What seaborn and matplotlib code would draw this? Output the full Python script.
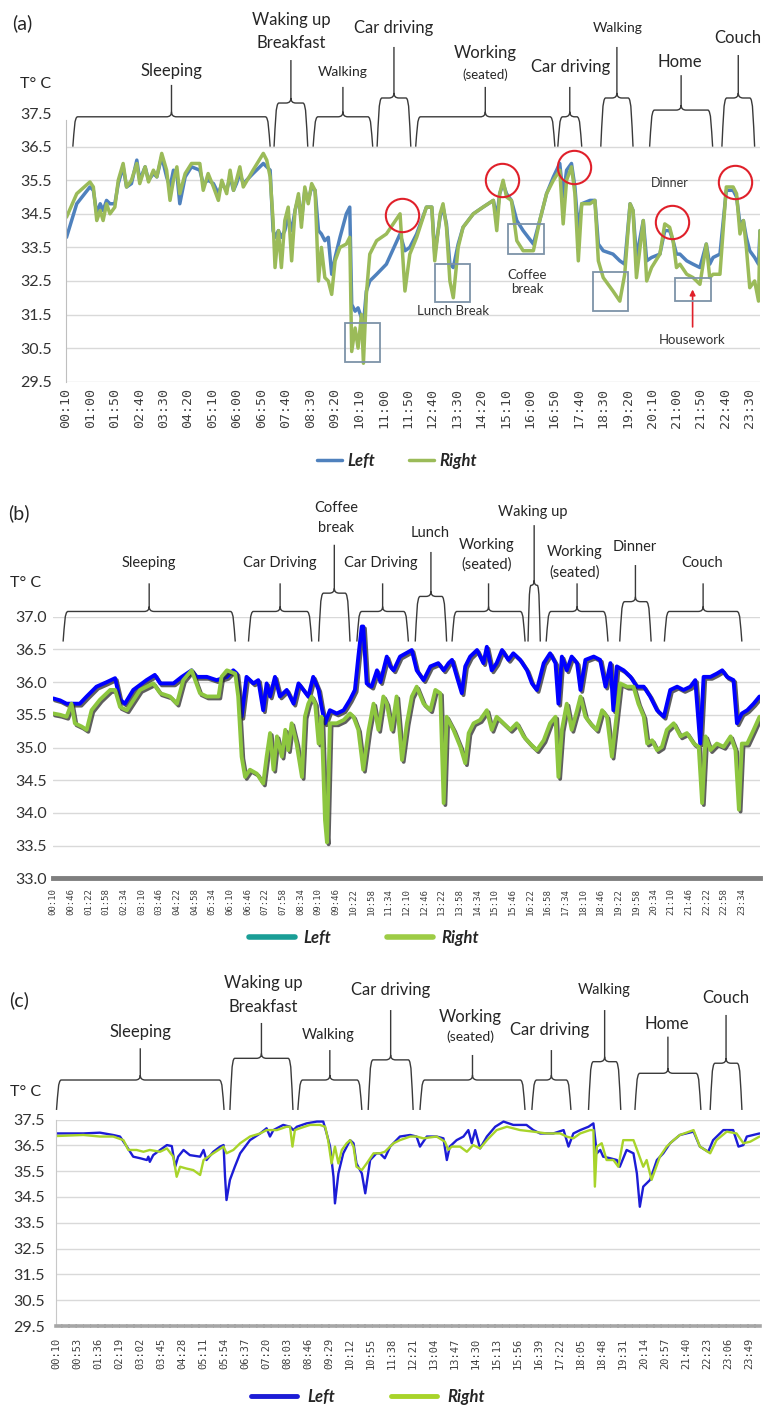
import matplotlib
matplotlib.use("Agg")
import numpy as np
import pandas as pd
import matplotlib.pyplot as plt
import seaborn as sns
from matplotlib.path import Path
from matplotlib.patches import PathPatch, Rectangle
import matplotlib.patheffects as pe
from matplotlib.lines import Line2D

# ---------------- DATA ----------------
# Panel (a): time in minutes after midnight, temperatures in deg C
time_a = [11, 32, 59, 66, 73, 80, 86, 93, 100, 110,
          117, 127, 134, 144, 155, 161, 172, 179, 189, 196,
          206, 216, 223, 230, 237, 243, 254, 267, 284, 291,
          301, 312, 322, 329, 339, 346, 353, 359, 366, 373,
          393, 414, 421, 428, 434, 438, 445, 451, 458, 465,
          472, 479, 486, 492, 499, 506, 513, 520, 527, 533,
          540, 547, 554, 561, 571, 584, 591, 595, 602, 608,
          615, 619, 625, 632, 646, 666, 694, 704, 714, 728,
          748, 759, 765, 776, 782, 789, 796, 803, 813, 823,
          844, 864, 885, 892, 898, 905, 912, 922, 933, 946,
          967, 980, 994, 1008, 1021, 1028, 1035, 1045, 1052, 1059,
          1066, 1083, 1093, 1100, 1110, 1130, 1144, 1154, 1165, 1171,
          1178, 1192, 1199, 1209, 1226, 1236, 1246, 1253, 1260, 1267,
          1281, 1294, 1308, 1321, 1328, 1335, 1349, 1362, 1376, 1383,
          1390, 1397, 1403, 1410, 1420, 1428, 1431]
right_a = [34.4, 35.1, 35.45, 35.3, 34.3, 34.6, 34.3, 34.8, 34.5, 34.7,
           35.5, 36.0, 35.3, 35.5, 36.0, 35.4, 35.9, 35.45, 35.8, 35.6,
           36.3, 35.8, 34.9, 35.5, 35.9, 35.1, 35.7, 36.0, 36.0, 35.2,
           35.7, 35.3, 34.9, 35.5, 35.1, 35.8, 35.2, 35.5, 35.9, 35.3,
           35.8, 36.3, 36.1, 35.6, 34.3, 32.9, 34.0, 32.9, 34.3, 34.7,
           33.1, 34.6, 35.1, 34.1, 35.3, 34.8, 35.4, 35.2, 32.5, 33.5,
           32.6, 32.5, 32.1, 33.1, 33.5, 33.6, 33.8, 30.4, 31.1, 30.5,
           31.5, 30.05, 32.1, 33.3, 33.7, 33.9, 34.5, 32.2, 33.3, 33.8,
           34.7, 34.7, 33.1, 34.5, 34.8, 34.1, 32.5, 32.0, 33.5, 34.1,
           34.5, 34.7, 34.9, 34.0, 35.1, 35.5, 35.0, 34.9, 33.7, 33.4,
           33.4, 34.3, 35.1, 35.5, 35.8, 34.2, 35.5, 35.9, 35.1, 33.1,
           34.8, 34.8, 34.9, 33.1, 32.6, 32.2, 31.9, 32.7, 34.8, 34.6,
           32.6, 34.3, 32.5, 32.9, 33.3, 34.2, 34.1, 33.7, 32.9, 33.0,
           32.7, 32.6, 32.4, 33.6, 32.6, 32.7, 32.7, 35.3, 35.3, 35.1,
           33.9, 34.3, 33.5, 32.3, 32.5, 31.9, 34.0]
left_a = [33.8, 34.8, 35.3, 35.2, 34.5, 34.8, 34.6, 34.9, 34.8, 34.8,
          35.4, 35.9, 35.3, 35.4, 36.1, 35.5, 35.9, 35.5, 35.7, 35.6,
          36.2, 35.6, 35.3, 35.8, 35.7, 34.8, 35.6, 35.9, 35.8, 35.4,
          35.5, 35.4, 35.1, 35.4, 35.2, 35.6, 35.2, 35.4, 35.7, 35.4,
          35.7, 36.0, 35.9, 35.8, 34.0, 33.8, 34.0, 33.8, 34.0, 34.4,
          34.0, 34.6, 35.0, 34.3, 35.2, 34.9, 35.3, 35.2, 34.0, 33.9,
          33.7, 33.8, 32.7, 33.2, 33.8, 34.5, 34.7, 31.8, 31.6, 31.7,
          31.4, 31.2, 32.2, 32.5, 32.7, 33.0, 33.9, 33.4, 33.5, 33.9,
          34.7, 34.7, 33.3, 34.4, 34.7, 34.2, 33.0, 32.9, 33.6, 34.1,
          34.5, 34.7, 34.9, 34.4, 35.1, 35.4, 35.1, 34.9, 34.3, 34.0,
          33.6, 34.3, 35.1, 35.6, 36.0, 35.0, 35.8, 36.0, 35.3, 34.0,
          34.8, 34.9, 34.9, 33.6, 33.4, 33.3, 33.1, 33.0, 34.8, 34.6,
          33.2, 34.3, 33.1, 33.2, 33.3, 34.0, 34.0, 33.7, 33.3, 33.3,
          33.1, 33.0, 32.9, 33.6, 33.0, 33.2, 33.3, 35.2, 35.2, 35.0,
          34.2, 34.3, 33.8, 33.4, 33.2, 33.0, 34.0]

# Panel (b)
time_b_left = [10, 24, 37, 51, 64, 78, 98, 119, 136, 146,
               156, 173, 200, 217, 228, 255, 272, 292, 302, 323,
               343, 364, 377, 384, 394, 404, 418, 428, 438, 445,
               452, 462, 472, 486, 500, 510, 520, 530, 540, 551,
               557, 564, 574, 588, 602, 615, 625, 632, 639, 642,
               649, 659, 670, 677, 690, 697, 704, 717, 741, 751,
               765, 779, 795, 806, 816, 823, 833, 843, 850, 860,
               874, 887, 894, 904, 914, 925, 938, 948, 962, 976,
               986, 996, 1010, 1023, 1034, 1040, 1047, 1057, 1067, 1078,
               1085, 1095, 1112, 1125, 1136, 1146, 1152, 1159, 1173, 1187,
               1200, 1214, 1227, 1241, 1255, 1268, 1282, 1295, 1309, 1319,
               1329, 1336, 1350, 1363, 1374, 1384, 1397, 1404, 1414, 1425,
               1438, 1450]
left_b = [35.75, 35.72, 35.67, 35.67, 35.67, 35.78, 35.93, 36.0, 36.06, 35.73,
          35.67, 35.88, 36.03, 36.11, 35.98, 35.98, 36.08, 36.18, 36.08, 36.08,
          36.03, 36.08, 36.18, 36.13, 35.47, 36.08, 35.98, 36.03, 35.57, 35.98,
          35.78, 36.08, 35.78, 35.88, 35.67, 35.98, 35.88, 35.78, 36.08, 35.88,
          35.62, 35.37, 35.57, 35.52, 35.57, 35.73, 35.88, 36.39, 36.85, 36.85,
          35.98, 35.93, 36.18, 36.0, 36.39, 36.24, 36.18, 36.39, 36.49, 36.18,
          36.03, 36.24, 36.29, 36.18, 36.29, 36.34, 36.08, 35.83, 36.24, 36.39,
          36.49, 36.29, 36.54, 36.18, 36.29, 36.49, 36.34, 36.44, 36.34, 36.18,
          35.98, 35.88, 36.29, 36.44, 36.29, 35.67, 36.39, 36.18, 36.39, 36.29,
          35.88, 36.34, 36.39, 36.34, 35.93, 36.29, 35.57, 36.24, 36.18, 36.08,
          35.93, 35.93, 35.78, 35.57, 35.47, 35.88, 35.93, 35.88, 35.93, 36.03,
          35.06, 36.08, 36.08, 36.13, 36.18, 36.08, 36.03, 35.37, 35.52, 35.57,
          35.67, 35.78]
time_b_right = [10, 24, 37, 47, 54, 68, 78, 88, 105, 126,
                136, 146, 160, 187, 214, 228, 248, 262, 275, 292,
                309, 323, 347, 353, 364, 381, 387, 394, 401, 411,
                425, 438, 445, 452, 459, 466, 476, 483, 489, 496,
                506, 517, 523, 530, 537, 544, 551, 557, 564, 568,
                574, 588, 602, 615, 622, 632, 642, 653, 663, 673,
                683, 690, 700, 710, 721, 731, 741, 751, 765, 779,
                789, 799, 806, 812, 826, 840, 850, 857, 867, 880,
                894, 904, 914, 928, 942, 955, 969, 982, 996, 1010,
                1023, 1034, 1040, 1047, 1057, 1067, 1078, 1085, 1095, 1105,
                1118, 1129, 1139, 1149, 1156, 1166, 1180, 1193, 1203, 1214,
                1221, 1231, 1241, 1251, 1261, 1275, 1289, 1302, 1316, 1326,
                1333, 1340, 1350, 1363, 1377, 1391, 1401, 1408, 1414, 1425,
                1438, 1450]
right_b = [35.52, 35.50, 35.47, 35.67, 35.37, 35.32, 35.27, 35.57, 35.73, 35.88,
           35.88, 35.62, 35.57, 35.88, 35.98, 35.83, 35.78, 35.67, 36.03, 36.18,
           35.83, 35.78, 35.78, 36.08, 36.18, 36.13, 35.78, 34.86, 34.55, 34.66,
           34.6, 34.45, 34.86, 35.22, 34.66, 35.17, 34.86, 35.27, 34.96, 35.37,
           35.06, 34.55, 35.47, 35.67, 35.78, 35.67, 35.06, 35.47, 33.89, 33.55,
           35.37, 35.37, 35.42, 35.52, 35.47, 35.27, 34.66, 35.27, 35.67, 35.27,
           35.78, 35.67, 35.27, 35.78, 34.81, 35.37, 35.78, 35.93, 35.67, 35.57,
           35.88, 35.83, 34.15, 35.47, 35.27, 35.01, 34.76, 35.22, 35.37, 35.42,
           35.57, 35.27, 35.47, 35.37, 35.27, 35.37, 35.17, 35.06, 34.96, 35.11,
           35.37, 35.47, 34.55, 35.27, 35.67, 35.27, 35.57, 35.78, 35.47, 35.37,
           35.27, 35.57, 35.47, 34.86, 35.32, 35.98, 35.93, 35.93, 35.67, 35.47,
           35.06, 35.11, 34.96, 35.01, 35.27, 35.37, 35.17, 35.22, 35.06, 35.01,
           34.15, 35.17, 34.96, 35.06, 35.01, 35.17, 34.96, 34.05, 35.06, 35.06,
           35.27, 35.47]

# Panel (c)
time_c_left = [11, 32, 66, 100, 127, 141, 155, 168, 182, 196,
               199, 202, 209, 223, 237, 247, 254, 260, 271, 284,
               305, 312, 318, 332, 346, 353, 356, 359, 366, 376,
               387, 407, 428, 441, 448, 455, 475, 489, 496, 503,
               523, 544, 557, 564, 571, 578, 581, 588, 598, 612,
               619, 625, 636, 643, 653, 666, 673, 683, 694, 714,
               735, 748, 755, 769, 789, 803, 810, 816, 830, 844,
               854, 861, 868, 878, 892, 909, 926, 946, 973, 987,
               1001, 1028, 1049, 1059, 1069, 1083, 1100, 1110, 1117, 1124,
               1130, 1144, 1158, 1164, 1178, 1192, 1199, 1205, 1212, 1226,
               1240, 1253, 1267, 1287, 1315, 1328, 1345, 1355, 1376, 1396,
               1407, 1417, 1424, 1450]
left_c = [36.96, 36.96, 36.96, 36.99, 36.9, 36.84, 36.45, 36.06, 36.0, 35.93,
          36.06, 35.86, 36.12, 36.32, 36.51, 36.47, 35.67, 36.06, 36.32, 36.12,
          36.06, 36.32, 35.93, 36.25, 36.45, 36.51, 35.28, 34.38, 35.16, 35.67,
          36.19, 36.7, 36.96, 37.16, 36.84, 37.09, 37.29, 37.22, 37.09, 37.22,
          37.35, 37.42, 37.42, 36.96, 36.45, 35.28, 34.25, 35.41, 36.19, 36.7,
          36.58, 35.8, 35.41, 34.64, 35.93, 36.19, 36.19, 36.0, 36.45, 36.84,
          36.9, 36.84, 36.45, 36.84, 36.84, 36.77, 35.93, 36.45, 36.7, 36.84,
          37.09, 36.58, 37.09, 36.38, 36.84, 37.22, 37.42, 37.29, 37.29, 37.09,
          36.96, 36.96, 37.09, 36.45, 36.96, 37.09, 37.22, 37.35, 36.19, 36.32,
          36.06, 36.0, 35.93, 35.67, 36.32, 36.19, 35.41, 34.12, 34.9, 35.16,
          35.93, 36.19, 36.58, 36.9, 37.03, 36.45, 36.25, 36.7, 37.09, 37.09,
          36.45, 36.51, 36.84, 36.96]
time_c_right = [11, 66, 100, 127, 148, 158, 175, 189, 202, 223,
                237, 250, 257, 264, 277, 291, 305, 312, 332, 353,
                359, 373, 387, 407, 428, 441, 462, 482, 489, 494,
                499, 509, 530, 550, 561, 567, 574, 581, 588, 595,
                605, 612, 619, 625, 636, 646, 660, 673, 683, 701,
                714, 735, 748, 762, 789, 806, 813, 820, 837, 851,
                864, 878, 892, 912, 933, 960, 987, 1014, 1042, 1055,
                1069, 1083, 1103, 1110, 1113, 1117, 1127, 1137, 1151, 1161,
                1171, 1192, 1202, 1212, 1219, 1229, 1246, 1260, 1274, 1287,
                1315, 1328, 1349, 1362, 1383, 1403, 1417, 1431, 1450]
right_c = [36.86, 36.9, 36.84, 36.84, 36.7, 36.32, 36.32, 36.25, 36.32, 36.25,
           36.38, 36.06, 35.28, 35.67, 35.6, 35.54, 35.35, 35.93, 36.19, 36.45,
           36.19, 36.32, 36.58, 36.84, 36.96, 37.09, 37.09, 37.22, 37.22, 36.45,
           37.09, 37.16, 37.29, 37.29, 37.22, 36.7, 35.8, 36.45, 35.8, 36.32,
           36.58, 36.7, 36.45, 35.67, 35.54, 35.8, 36.19, 36.19, 36.25, 36.58,
           36.7, 36.84, 36.84, 36.77, 36.84, 36.64, 36.32, 36.45, 36.45, 36.25,
           36.51, 36.38, 36.7, 37.09, 37.22, 37.09, 37.03, 36.96, 36.96, 36.84,
           36.77, 36.96, 37.09, 37.09, 34.9, 36.45, 36.58, 35.93, 35.93, 35.67,
           36.7, 36.7, 36.19, 35.67, 35.93, 35.16, 36.06, 36.45, 36.7, 36.9,
           37.09, 36.45, 36.19, 36.7, 37.03, 36.96, 36.58, 36.64, 36.84]

# Tick labels
ticks_a = ["00:10", "01:00", "01:50", "02:40", "03:30", "04:20", "05:10", "06:00",
           "06:50", "07:40", "08:30", "09:20", "10:10", "11:00", "11:50", "12:40",
           "13:30", "14:20", "15:10", "16:00", "16:50", "17:40", "18:30", "19:20",
           "20:10", "21:00", "21:50", "22:40", "23:30"]
ticks_b = ["00:10", "00:46", "01:22", "01:58", "02:34", "03:10", "03:46", "04:22",
           "04:58", "05:34", "06:10", "06:46", "07:22", "07:58", "08:34", "09:10",
           "09:46", "10:22", "10:58", "11:34", "12:10", "12:46", "13:22", "13:58",
           "14:34", "15:10", "15:46", "16:22", "16:58", "17:34", "18:10", "18:46",
           "19:22", "19:58", "20:34", "21:10", "21:46", "22:22", "22:58", "23:34"]
ticks_c = ["00:10", "00:53", "01:36", "02:19", "03:02", "03:45", "04:28", "05:11",
           "05:54", "06:37", "07:20", "08:03", "08:46", "09:29", "10:12", "10:55",
           "11:38", "12:21", "13:04", "13:47", "14:30", "15:13", "15:56", "16:39",
           "17:22", "18:05", "18:48", "19:31", "20:14", "20:57", "21:40", "22:23",
           "23:06", "23:49"]
yt_a = [29.5, 30.5, 31.5, 32.5, 33.5, 34.5, 35.5, 36.5, 37.5]
yt_b = [33.0, 33.5, 34.0, 34.5, 35.0, 35.5, 36.0, 36.5, 37.0]
yt_c = [29.5, 30.5, 31.5, 32.5, 33.5, 34.5, 35.5, 36.5, 37.5]

# Activity braces: start, end (minutes), level, top (deg C)
act_a_start = [24, 436, 516, 647, 726, 1017, 1105, 1205, 1353]
act_a_end = [428, 505, 638, 716, 1011, 1066, 1171, 1334, 1420]
act_a_level = [37.39, 37.8, 37.39, 37.95, 37.39, 37.39, 37.95, 37.59, 37.95]
act_a_top = [38.34, 39.08, 38.28, 39.47, 38.28, 38.28, 39.47, 38.63, 39.23]
lab_a = [("Sleeping", 225, 38.75, 12), ("Waking up", 471, 40.27, 12),
         ("Breakfast", 471, 39.59, 12), ("Walking", 577, 38.72, 10),
         ("Car driving", 681, 40.03, 12), ("Working", 868, 39.29, 12),
         ("(seated)", 868, 38.63, 9.5), ("Car driving", 1044, 38.87, 12),
         ("Walking", 1140, 40.03, 10), ("Home", 1267, 39.02, 12),
         ("Couch", 1386, 39.74, 12)]

act_b_start = [30, 408, 551, 629, 748, 823, 978, 1015, 1165, 1256]
act_b_end = [381, 537, 615, 734, 812, 972, 1003, 1141, 1229, 1414]
act_b_level = [37.08, 37.08, 37.36, 37.08, 37.31, 37.08, 37.48, 37.08, 37.23, 37.08]
act_b_top = [37.51, 37.51, 38.10, 37.51, 37.99, 37.51, 38.40, 37.51, 37.79, 37.51]
lab_b = [("Sleeping", 204, 37.82), ("Car Driving", 471, 37.82), ("Coffee", 587, 38.66),
         ("break", 587, 38.36), ("Car Driving", 678, 37.82), ("Lunch", 778, 38.28),
         ("Working", 894, 38.10), ("(seated)", 894, 37.79), ("Waking up", 988, 38.60),
         ("Working", 1074, 37.99), ("(seated)", 1074, 37.68), ("Dinner", 1196, 38.07),
         ("Couch", 1333, 37.82)]

act_c_start = [11, 366, 505, 649, 755, 984, 1100, 1195, 1349]
act_c_end = [354, 495, 636, 741, 970, 1064, 1166, 1330, 1414]
act_c_level = [39.03, 39.87, 39.03, 39.81, 39.03, 39.03, 39.74, 39.29, 39.68]
act_c_top = [40.26, 41.24, 40.19, 41.74, 40.0, 40.19, 41.74, 40.71, 41.55]
lab_c = [("Sleeping", 182, 40.9, 12), ("Waking up", 434, 42.79, 12),
         ("Breakfast", 434, 41.86, 12), ("Walking", 567, 40.78, 10.5),
         ("Car driving", 694, 42.52, 12), ("Working", 858, 41.47, 12),
         ("(seated)", 858, 40.70, 10), ("Car driving", 1021, 40.97, 12),
         ("Walking", 1132, 42.52, 10.5), ("Home", 1261, 41.20, 12),
         ("Couch", 1382, 42.21, 12)]

# Panel (a) highlight marks
circ_a_x = [697, 902, 1050, 1250, 1379]
circ_a_y = [34.47, 35.5, 35.9, 34.27, 35.46]
box_a = [(581, 653, 30.1, 31.24), (765, 837, 31.86, 33.01), (915, 989, 33.31, 34.19),
         (1089, 1161, 31.62, 32.78), (1257, 1330, 31.89, 32.58)]

# ---------------- STYLE ----------------
sns.set_style("white")
plt.rcParams['font.family'] = ['Lato', 'DejaVu Sans']
TXT = "#262626"
GRID = "#d9d9d9"

W, H = 764, 1412
fig = plt.figure(figsize=(W / 100, H / 100), dpi=100)
fig.patch.set_facecolor("white")


def px_axes(l, t, r, b):
    return fig.add_axes([l / W, 1 - b / H, (r - l) / W, (b - t) / H])


def to_min(s):
    h, m = s.split(":")
    return int(h) * 60 + int(m)


def brace(ax, x0, x1, ybot, ylev, ytop, rx, ry):
    rx = min(rx, (x1 - x0) / 4.0)
    xm = (x0 + x1) / 2.0
    hh = ylev - ybot
    # legs flare slightly outward at the bottom, rounded corner into the horizontal
    verts = [(x0, ybot), (x0 + 0.3 * rx, ybot + 0.55 * hh), (x0 + 0.3 * rx, ylev), (x0 + rx, ylev),
             (xm - rx, ylev),
             (xm, ylev), (xm, ylev + ry),
             (xm, ytop),
             (xm, ylev + ry),
             (xm, ylev), (xm + rx, ylev),
             (x1 - rx, ylev),
             (x1 - 0.3 * rx, ylev), (x1 - 0.3 * rx, ybot + 0.55 * hh), (x1, ybot)]
    codes = [Path.MOVETO, Path.CURVE4, Path.CURVE4, Path.CURVE4,
             Path.LINETO,
             Path.CURVE3, Path.CURVE3,
             Path.LINETO,
             Path.MOVETO,
             Path.CURVE3, Path.CURVE3,
             Path.LINETO,
             Path.CURVE4, Path.CURVE4, Path.CURVE4]
    p = PathPatch(Path(verts, codes), fill=False, edgecolor="#3a3a3a", lw=1.0,
                  clip_on=False, zorder=5)
    ax.add_patch(p)


def make_df(tl, vl, tr, vr):
    d1 = pd.DataFrame({"time": tl, "temp": vl, "side": "Left"})
    d2 = pd.DataFrame({"time": tr, "temp": vr, "side": "Right"})
    return pd.concat([d1, d2], ignore_index=True)


def base_axes(ax, yticks, fmt, xlim, ticks, tick_fs, ypad, xpad):
    ax.set_xlim(*xlim)
    ax.set_ylim(yticks[0], yticks[-1])
    ax.set_yticks(yticks)
    ax.set_yticklabels([fmt % v for v in yticks], fontsize=11.5, color="#333333")
    ax.set_xticks([to_min(s) for s in ticks])
    ax.set_xticklabels(ticks, rotation=90, fontsize=tick_fs, color="#404040",
                       fontfamily="DejaVu Sans Mono")
    ax.tick_params(axis="both", length=0)
    ax.tick_params(axis="y", pad=ypad)
    ax.tick_params(axis="x", pad=xpad)
    ax.yaxis.grid(True, color=GRID, lw=1.0)
    ax.xaxis.grid(False)
    ax.set_axisbelow(True)
    ax.set_xlabel("")
    ax.set_ylabel("")
    ax.set_facecolor("none")
    for s in ax.spines.values():
        s.set_visible(False)


# ---------------- PANEL (a) ----------------
ax_a = px_axes(66, 113.1, 760, 381.7)
df_a = make_df(time_a, left_a, time_a, right_a)
sns.lineplot(data=df_a, x="time", y="temp", hue="side", hue_order=["Left", "Right"],
             palette={"Left": "#4f81bd", "Right": "#9bbb59"}, linewidth=2.5,
             estimator=None, legend=False, ax=ax_a)
base_axes(ax_a, yt_a, "%.1f", (10, 1431), ticks_a, 9.5, 10, 4.5)
ax_a.get_ygridlines()[-1].set_visible(False)
ax_a.spines["left"].set_visible(True)
ax_a.spines["left"].set_color("#bfbfbf")
ax_a.spines["left"].set_bounds(29.5, 37.3)

for x0, x1, lv, tp in zip(act_a_start, act_a_end, act_a_level, act_a_top):
    brace(ax_a, x0, x1, 36.5, lv, tp, 10, 0.15)
for s, x, y, fs in lab_a:
    ax_a.text(x, y, s, ha="center", va="center", fontsize=fs, color=TXT)

for (x0, x1, y0, y1) in box_a:
    ax_a.add_patch(Rectangle((x0, y0), x1 - x0, y1 - y0, fill=False,
                             edgecolor="#7d93a8", lw=1.3, zorder=4))
ax_a.plot(circ_a_x, circ_a_y, "o", ms=24, mfc="none", mec="#e0202a", mew=1.5, zorder=6)
ax_a.text(802, 31.6, "Lunch Break", ha="center", va="center", fontsize=9.5, color="#333333")
ax_a.text(954, 32.47, "Coffee\nbreak", ha="center", va="center", fontsize=9.5,
          color="#333333", linespacing=1.25)
ax_a.text(1246, 35.43, "Dinner", ha="center", va="center", fontsize=9, color="#333333")
ax_a.text(1293, 30.75, "Housework", ha="center", va="center", fontsize=9.5, color="#333333")
ax_a.annotate("", xy=(1293, 32.33), xytext=(1293, 31.05),
              arrowprops=dict(arrowstyle="-|>", color="#e0202a", lw=1.2, mutation_scale=8))

fig.text(22 / W, 1 - 23 / H, "(a)", fontsize=14, color=TXT, ha="center", va="center")
fig.text(20 / W, 1 - 84 / H, "T° C", fontsize=11.5, color=TXT, ha="left", va="center")
fig.legend(handles=[Line2D([0], [0], color="#4f81bd", lw=2.5),
                    Line2D([0], [0], color="#9bbb59", lw=2.5)],
           labels=["Left", "Right"], loc="center", bbox_to_anchor=(397 / W, 1 - 461 / H),
           ncol=2, frameon=False, handlelength=1.5, handletextpad=0.35, columnspacing=2.0,
           prop={"family": "Lato", "weight": "bold", "style": "italic", "size": 12})

# ---------------- PANEL (b) ----------------
ax_b = px_axes(53.3, 616.7, 760, 878.3)
df_b = make_df(time_b_left, left_b, time_b_right, right_b)
sns.lineplot(data=df_b, x="time", y="temp", hue="side", hue_order=["Left", "Right"],
             palette={"Left": "#0000ff", "Right": "#8dc63f"}, linewidth=2.8,
             estimator=None, legend=False, ax=ax_b)
for ln in ax_b.get_lines():
    ln.set_path_effects([pe.SimpleLineShadow(offset=(1.2, -1.4), shadow_color="#2a2a2a", alpha=0.75),
                         pe.Normal()])
base_axes(ax_b, yt_b, "%.1f", (10, 1451), ticks_b, 6.5, 4.5, 7)
ax_b.spines["bottom"].set_visible(True)
ax_b.spines["bottom"].set_color("#7f7f7f")
ax_b.spines["bottom"].set_linewidth(3.5)

for x0, x1, lv, tp in zip(act_b_start, act_b_end, act_b_level, act_b_top):
    brace(ax_b, x0, x1, 36.62, lv, tp, 10, 0.075)
for s, x, y in lab_b:
    ax_b.text(x, y, s, ha="center", va="center", fontsize=10.5, color=TXT)

fig.text(19 / W, 1 - 513 / H, "(b)", fontsize=14, color=TXT, ha="center", va="center")
fig.text(10 / W, 1 - 583 / H, "T° C", fontsize=11.5, color=TXT, ha="left", va="center")
fig.legend(handles=[Line2D([0], [0], color="#1a9e96", lw=4),
                    Line2D([0], [0], color="#9dcc45", lw=4)],
           labels=["Left", "Right"], loc="center", bbox_to_anchor=(364 / W, 1 - 938 / H),
           ncol=2, frameon=False, handlelength=2.8, handletextpad=0.5, columnspacing=3.3,
           prop={"family": "Lato", "weight": "bold", "style": "italic", "size": 12})

# ---------------- PANEL (c) ----------------
ax_c = px_axes(56, 1119.5, 760, 1326)
df_c = make_df(time_c_left, left_c, time_c_right, right_c)
sns.lineplot(data=df_c, x="time", y="temp", hue="side", hue_order=["Left", "Right"],
             palette={"Left": "#1c1cd6", "Right": "#a8d42a"}, linewidth=1.7,
             estimator=None, legend=False, ax=ax_c)
base_axes(ax_c, yt_c, "%.1f", (10, 1451), ticks_c, 7.5, 8, 8.5)
ax_c.spines["left"].set_visible(True)
ax_c.spines["left"].set_color("#c8c8c8")
ax_c.spines["bottom"].set_visible(True)
ax_c.spines["bottom"].set_color("#a6a6a6")
ax_c.spines["bottom"].set_linewidth(2.6)
ax_c.spines["bottom"].set_linestyle((0, (1.2, 0.8)))

for x0, x1, lv, tp in zip(act_c_start, act_c_end, act_c_level, act_c_top):
    brace(ax_c, x0, x1, 37.87, lv, tp, 10, 0.19)
for s, x, y, fs in lab_c:
    ax_c.text(x, y, s, ha="center", va="center", fontsize=fs, color=TXT)

fig.text(19 / W, 1 - 1000 / H, "(c)", fontsize=14, color=TXT, ha="center", va="center")
fig.text(10 / W, 1 - 1092 / H, "T° C", fontsize=11.5, color=TXT, ha="left", va="center")
fig.legend(handles=[Line2D([0], [0], color="#1c1cd6", lw=3.5),
                    Line2D([0], [0], color="#a8d42a", lw=3.5)],
           labels=["Left", "Right"], loc="center", bbox_to_anchor=(368 / W, 1 - 1397 / H),
           ncol=2, frameon=False, handlelength=2.75, handletextpad=0.6, columnspacing=3.4,
           prop={"family": "Lato", "weight": "bold", "style": "italic", "size": 12})

fig.savefig("out.png", dpi=100, facecolor="white")
